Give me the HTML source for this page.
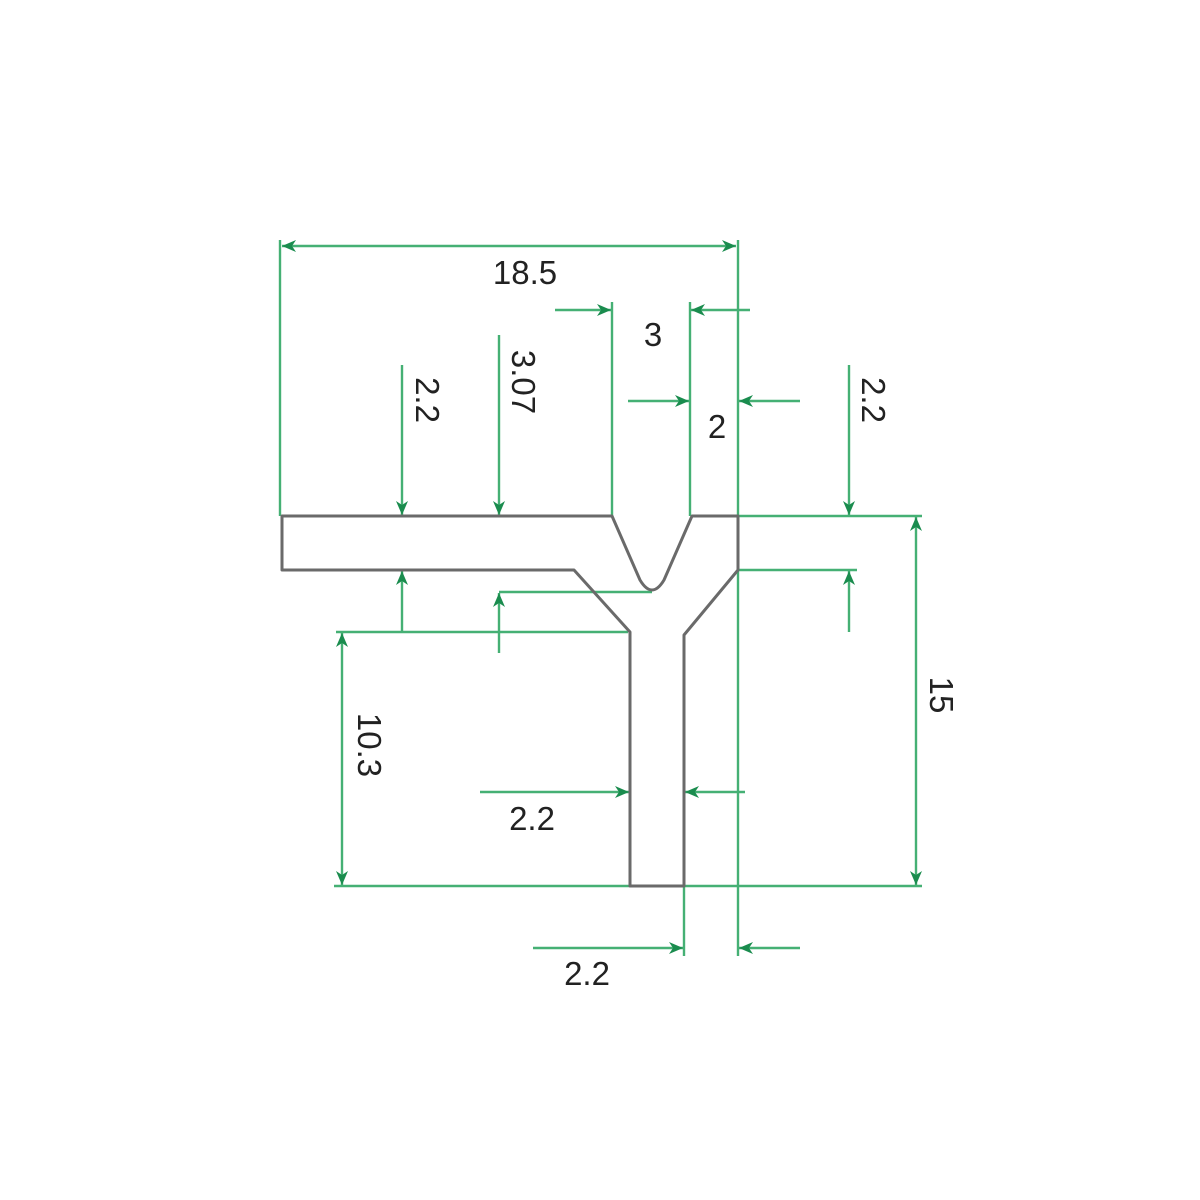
<!DOCTYPE html>
<html><head><meta charset="utf-8"><style>
html,body{margin:0;padding:0;background:#fff;}
svg{display:block;}
text{font-family:"Liberation Sans","DejaVu Sans",sans-serif;font-size:33px;fill:#222;}
</style></head><body>
<svg width="1200" height="1200" viewBox="0 0 1200 1200" xmlns="http://www.w3.org/2000/svg">
<defs>
<marker id="a" viewBox="0 0 14 12" refX="14" refY="6" markerWidth="14" markerHeight="12" markerUnits="userSpaceOnUse" orient="auto">
<path d="M0,0 L14,6 L0,12 L4,6 Z" fill="#1a8c4e"/>
</marker>
</defs>
<g stroke="#45b074" stroke-width="2.4" fill="none">
<line x1="280" y1="240" x2="280" y2="516"/>
<line x1="738" y1="240" x2="738" y2="956"/>
<line x1="509" y1="246" x2="282" y2="246" marker-end="url(#a)"/>
<line x1="509" y1="246" x2="736" y2="246" marker-end="url(#a)"/>
<line x1="612" y1="302" x2="612" y2="516"/>
<line x1="690" y1="302" x2="690" y2="516"/>
<line x1="555" y1="310" x2="611" y2="310" marker-end="url(#a)"/>
<line x1="750" y1="310" x2="691" y2="310" marker-end="url(#a)"/>
<line x1="628" y1="401" x2="689" y2="401" marker-end="url(#a)"/>
<line x1="800" y1="401" x2="739" y2="401" marker-end="url(#a)"/>
<line x1="402" y1="365" x2="402" y2="515" marker-end="url(#a)"/>
<line x1="499" y1="335" x2="499" y2="515" marker-end="url(#a)"/>
<line x1="738" y1="516" x2="922" y2="516"/>
<line x1="849" y1="365" x2="849" y2="515" marker-end="url(#a)"/>
<line x1="738" y1="570" x2="857" y2="570"/>
<line x1="849" y1="632" x2="849" y2="571" marker-end="url(#a)"/>
<line x1="336" y1="632" x2="628" y2="632"/>
<line x1="402" y1="632" x2="402" y2="571" marker-end="url(#a)"/>
<line x1="499" y1="592" x2="652" y2="592"/>
<line x1="499" y1="653" x2="499" y2="593" marker-end="url(#a)"/>
<line x1="342" y1="760" x2="342" y2="633" marker-end="url(#a)"/>
<line x1="342" y1="760" x2="342" y2="885" marker-end="url(#a)"/>
<line x1="334" y1="886" x2="922" y2="886"/>
<line x1="916" y1="700" x2="916" y2="517" marker-end="url(#a)"/>
<line x1="916" y1="700" x2="916" y2="885" marker-end="url(#a)"/>
<line x1="480" y1="792" x2="629" y2="792" marker-end="url(#a)"/>
<line x1="745" y1="792" x2="685" y2="792" marker-end="url(#a)"/>
<line x1="684" y1="886" x2="684" y2="956"/>
<line x1="533" y1="948" x2="683" y2="948" marker-end="url(#a)"/>
<line x1="800" y1="948" x2="739" y2="948" marker-end="url(#a)"/>
</g>
<path d="M282,516 L612,516 L640,580 Q652,600 664,580 L692,516 L738,516 L738,570 L684,635 L684,886 L630,886 L630,632 L574,570 L282,570 Z" fill="none" stroke="#6a6a6a" stroke-width="3" stroke-linejoin="round"/>
<text x="525" y="284" text-anchor="middle">18.5</text>
<text x="653" y="346" text-anchor="middle">3</text>
<text x="717" y="438" text-anchor="middle">2</text>
<text x="532" y="830" text-anchor="middle">2.2</text>
<text x="587" y="985" text-anchor="middle">2.2</text>
<text transform="translate(416,400) rotate(90)" text-anchor="middle">2.2</text>
<text transform="translate(512,382) rotate(90)" text-anchor="middle">3.07</text>
<text transform="translate(862,400) rotate(90)" text-anchor="middle">2.2</text>
<text transform="translate(358,745) rotate(90)" text-anchor="middle">10.3</text>
<text transform="translate(930,695) rotate(90)" text-anchor="middle">15</text>
</svg>
</body></html>
